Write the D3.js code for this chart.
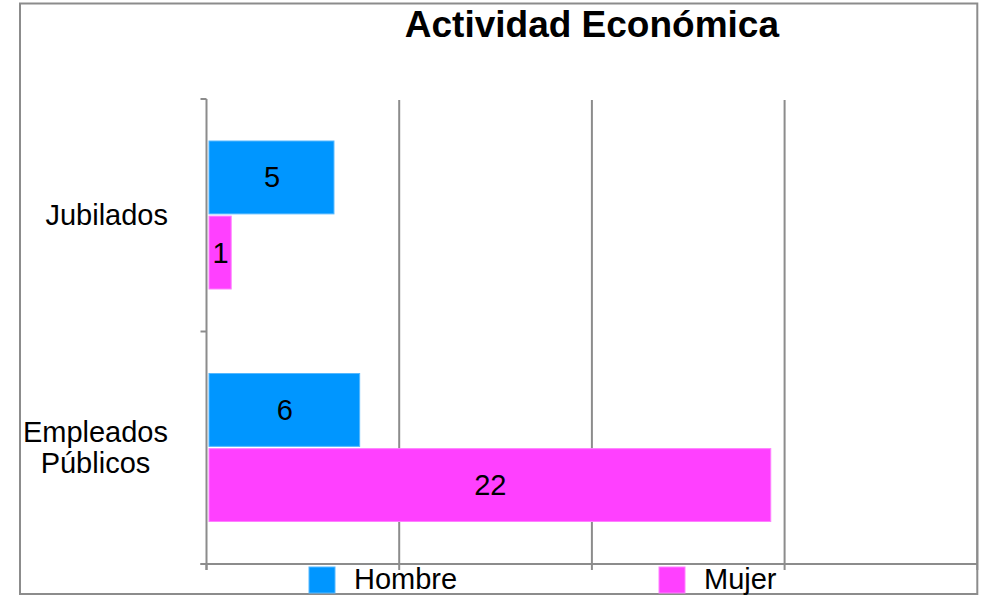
<!DOCTYPE html>
<html>
<head>
<meta charset="utf-8">
<script src="https://cdn.jsdelivr.net/npm/d3@7"></script>
<style>
  html, body { margin: 0; padding: 0; background: #fff; }
  svg { display: block; font-family: "Liberation Sans", Arial, sans-serif; }
</style>
</head>
<body>
<svg id="chart" width="986" height="597"></svg>
<script>
// Data
const categories = ["Jubilados", "Empleados Públicos"];
const categoryLines = [["Jubilados"], ["Empleados", "Públicos"]];
const series = ["Hombre", "Mujer"];
const hombre = [5, 6];
const mujer = [1, 22];
const xTicks = [0, 7.5, 15, 22.5, 30];
const colors = ["#0096FF", "#FF40FF"];
const strokes = ["#55b8ff", "#ff80ff"];

const values = [hombre, mujer];

const svg = d3.select("#chart");
const W = 986, H = 597;

svg.append("rect").attr("width", W).attr("height", H).attr("fill", "#fff");

// Plot geometry
const plot = { left: 206.5, right: 977.3, top: 99, bottom: 564 };

const x = d3.scaleLinear().domain([0, 30]).range([plot.left, plot.right]);
const y0 = d3.scaleBand().domain(categories).range([plot.top, plot.bottom]).padding(0);
const y1 = d3.scaleBand().domain(series).range([42, 190]).paddingInner(0.03).paddingOuter(0);

const grey = "#8c8c8c";

// Vertical gridlines
svg.append("g").selectAll("line")
  .data(xTicks.slice(1))
  .join("line")
  .attr("x1", d => x(d)).attr("x2", d => x(d))
  .attr("y1", plot.top + 1).attr("y2", plot.bottom)
  .attr("stroke", grey).attr("stroke-width", 2);

// Outer frame
svg.append("rect")
  .attr("x", 20).attr("y", 3.5)
  .attr("width", 957.3).attr("height", 590.5)
  .attr("fill", "none").attr("stroke", grey).attr("stroke-width", 2);

// Bars
const groups = svg.append("g").selectAll("g")
  .data(categories)
  .join("g")
  .attr("transform", d => `translate(0,${y0(d)})`);

groups.each(function(cat, ci) {
  const g = d3.select(this);
  series.forEach((s, si) => {
    const v = values[si][ci];
    g.append("rect")
      .attr("x", x(0) + 2.5)
      .attr("y", y1(s))
      .attr("width", x(v) - x(0) - 3.5)
      .attr("height", y1.bandwidth())
      .attr("fill", colors[si])
      .attr("stroke", strokes[si])
      .attr("stroke-width", 1);
    g.append("text")
      .attr("x", (x(0) + 2.5 + x(v)) / 2)
      .attr("y", y1(s) + y1.bandwidth() / 2)
      .attr("text-anchor", "middle")
      .attr("dominant-baseline", "central")
      .attr("font-size", 29)
      .attr("fill", "#000")
      .text(v);
  });
});

// Left axis (category boundaries)
const yAxis = svg.append("g");
yAxis.append("line")
  .attr("x1", plot.left).attr("x2", plot.left)
  .attr("y1", plot.top).attr("y2", plot.bottom + 6)
  .attr("stroke", grey).attr("stroke-width", 2);
const bounds = categories.map(c => y0(c)).concat([plot.bottom]);
yAxis.selectAll("line.tick")
  .data(bounds)
  .join("line").attr("class", "tick")
  .attr("x1", plot.left - 6).attr("x2", plot.left)
  .attr("y1", d => d).attr("y2", d => d)
  .attr("stroke", grey).attr("stroke-width", 2);

// Bottom axis
const xAxis = svg.append("g");
xAxis.append("line")
  .attr("x1", plot.left - 6).attr("x2", plot.right)
  .attr("y1", plot.bottom).attr("y2", plot.bottom)
  .attr("stroke", grey).attr("stroke-width", 2);

// Legend
const legendX = [309, 659];
const legend = svg.append("g");
series.forEach((s, i) => {
  legend.append("rect")
    .attr("x", legendX[i]).attr("y", 567)
    .attr("width", 26).attr("height", 26)
    .attr("fill", colors[i]).attr("stroke", strokes[i]).attr("stroke-width", 1);
  legend.append("text")
    .attr("x", legendX[i] + 45).attr("y", 589)
    .attr("font-size", 29).attr("fill", "#000")
    .text(s);
});

// Bottom ticks drawn over legend
xAxis.selectAll("line.tick")
  .data(xTicks)
  .join("line").attr("class", "tick")
  .attr("x1", d => x(d)).attr("x2", d => x(d))
  .attr("y1", plot.bottom).attr("y2", plot.bottom + 6)
  .attr("stroke", grey).attr("stroke-width", 2);

// Category labels
const labelRight = 168;
const catLabels = svg.append("g");
categories.forEach((c, i) => {
  const lines = categoryLines[i];
  const cy = y0(c) + y0.bandwidth() / 2;
  const lh = 31;
  const t = catLabels.append("text")
    .attr("font-size", 29).attr("fill", "#000")
    .attr("text-anchor", "middle");
  lines.forEach((ln, k) => {
    t.append("tspan")
      .attr("y", cy + (k - (lines.length - 1) / 2) * lh)
      .attr("dominant-baseline", "central")
      .text(ln);
  });
  const w = d3.max(t.selectAll("tspan").nodes(), n => n.getComputedTextLength());
  t.selectAll("tspan").attr("x", labelRight - w / 2);
});

// Title
svg.append("text")
  .attr("x", (plot.left + plot.right) / 2)
  .attr("y", 37)
  .attr("text-anchor", "middle")
  .attr("font-size", 37)
  .attr("font-weight", "bold")
  .attr("fill", "#000")
  .text("Actividad Económica");
</script>
</body>
</html>
